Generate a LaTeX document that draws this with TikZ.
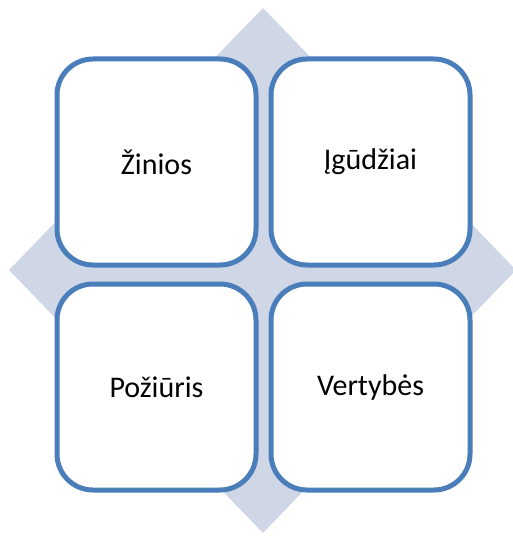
\documentclass[tikz,border=0pt]{standalone}
\usepackage{fontspec}
\setmainfont{Carlito}
\definecolor{tileblue}{HTML}{4A7EBB}
\definecolor{diamondgray}{HTML}{CFD7E6}
\begin{document}
\begin{tikzpicture}[x=1pt, y=-1pt,
  tile/.style={draw=tileblue, line width=5pt, fill=white, rounded corners=36pt,
    minimum width=199pt, minimum height=206pt, inner sep=0pt, font=\fontsize{30}{36}\selectfont}]
\useasboundingbox (0,0) rectangle (512,537);
\coordinate (top) at (263,8);
\coordinate (left) at (9,270);
\coordinate (right) at (516,270);
\coordinate (bottom) at (263,533);
\fill[diamondgray] (top)--(right)--(bottom)--(left)--cycle;
\node[tile] (ziniios) at (156.5,162) {Žinios};
\node[tile] (igudziai) at (370.5,162) {Įgūdžiai};
\node[tile] (poziuris) at (156.5,387) {Požiūris};
\node[tile] (vertybes) at (370.5,387) {Vertybės};
\end{tikzpicture}
\end{document}
